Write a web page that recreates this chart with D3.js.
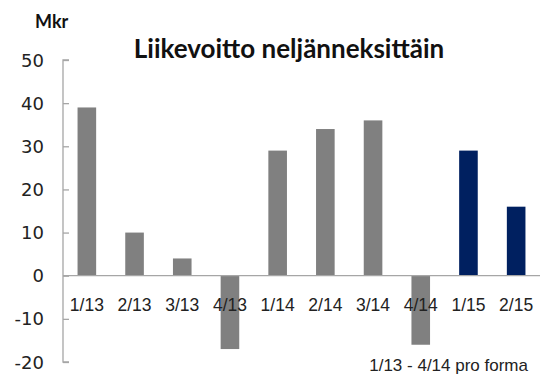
<!DOCTYPE html>
<html lang="fi">
<head>
    <meta charset="UTF-8">
    <title>Liikevoitto neljänneksittäin</title>
    <script src="https://cdn.jsdelivr.net/npm/d3@7"></script>
    <style>
        body { margin: 0; background: #fff; }
    </style>
</head>
<body>
<div id="chart"></div>
<script>

    // quarters and operating profit (Mkr)
    const quarters = ["1/13", "2/13", "3/13", "4/13", "1/14", "2/14", "3/14", "4/14", "1/15", "2/15"];
    const profit = [39, 10, 4, -17, 29, 34, 36, -16, 29, 16];
    const proForma = [true, true, true, true, true, true, true, true, false, false];
    const yTicks = [-20, -10, 0, 10, 20, 30, 40, 50];

    const width = 545, height = 376;
    const plotLeft = 63, plotRight = 540, plotTop = 60, plotBottom = 362;

    const svg = d3.select("#chart").append("svg")
        .attr("width", width)
        .attr("height", height);

    const x = d3.scaleBand()
        .domain(quarters)
        .range([plotLeft, plotRight])
        .paddingInner(0.61)
        .paddingOuter(0.305);

    const y = d3.scaleLinear()
        .domain([-20, 50])
        .range([plotBottom, plotTop]);

    // y axis, ticks point into the plot
    const yAxis = svg.append("g")
        .attr("transform", "translate(" + plotLeft + ",0)")
        .call(d3.axisRight(y).tickValues(yTicks).tickSize(6).tickFormat(""));
    yAxis.select(".domain").attr("stroke", "#a6a6a6").attr("stroke-width", 1.3)
        .attr("d", "M6," + y(50) + "H0V" + y(-20) + "H6");
    yAxis.selectAll(".tick line").attr("stroke", "#a6a6a6").attr("stroke-width", 1.3);

    svg.append("g")
        .selectAll("text")
        .data(yTicks)
        .enter()
        .append("text")
        .attr("x", 44)
        .attr("y", function(d) { return y(d) + 6.5; })
        .attr("text-anchor", "end")
        .style("font-family", "'DejaVu Sans', sans-serif")
        .style("font-size", "18px")
        .attr("fill", "#222")
        .text(function(d) { return d; });

    // bars
    svg.append("g")
        .selectAll("rect")
        .data(profit)
        .enter()
        .append("rect")
        .attr("x", function(d, i) { return x(quarters[i]); })
        .attr("width", x.bandwidth())
        .attr("y", function(d) { return y(Math.max(0, d)); })
        .attr("height", function(d) { return Math.abs(y(d) - y(0)); })
        .attr("fill", function(d, i) { return proForma[i] ? "#808080" : "#002060"; });

    // zero line
    svg.append("line")
        .attr("x1", plotLeft)
        .attr("x2", plotRight)
        .attr("y1", y(0))
        .attr("y2", y(0))
        .attr("stroke", "#a6a6a6")
        .attr("stroke-width", 1.3);

    // quarter labels
    svg.append("g")
        .selectAll("text")
        .data(quarters)
        .enter()
        .append("text")
        .attr("x", function(d) { return x(d) + x.bandwidth() / 2; })
        .attr("y", y(0) + 35)
        .attr("text-anchor", "middle")
        .style("font-family", "'Liberation Sans', Arial, sans-serif")
        .style("font-size", "17.5px")
        .attr("fill", "#222")
        .text(function(d) { return d; });

    svg.append("text")
        .attr("x", 289)
        .attr("y", 58)
        .attr("text-anchor", "middle")
        .style("font-family", "Lato, sans-serif")
        .style("font-weight", "bold")
        .style("font-size", "26px")
        .attr("fill", "#111")
        .text("Liikevoitto neljänneksittäin");

    svg.append("text")
        .attr("x", 35)
        .attr("y", 28)
        .style("font-family", "Lato, sans-serif")
        .style("font-weight", "bold")
        .style("font-size", "18px")
        .attr("fill", "#111")
        .text("Mkr");

    svg.append("text")
        .attr("x", 528)
        .attr("y", 371)
        .attr("text-anchor", "end")
        .style("font-family", "'Liberation Sans', Arial, sans-serif")
        .style("font-size", "17px")
        .attr("fill", "#222")
        .text("1/13 - 4/14 pro forma");

</script>
</body>
</html>
